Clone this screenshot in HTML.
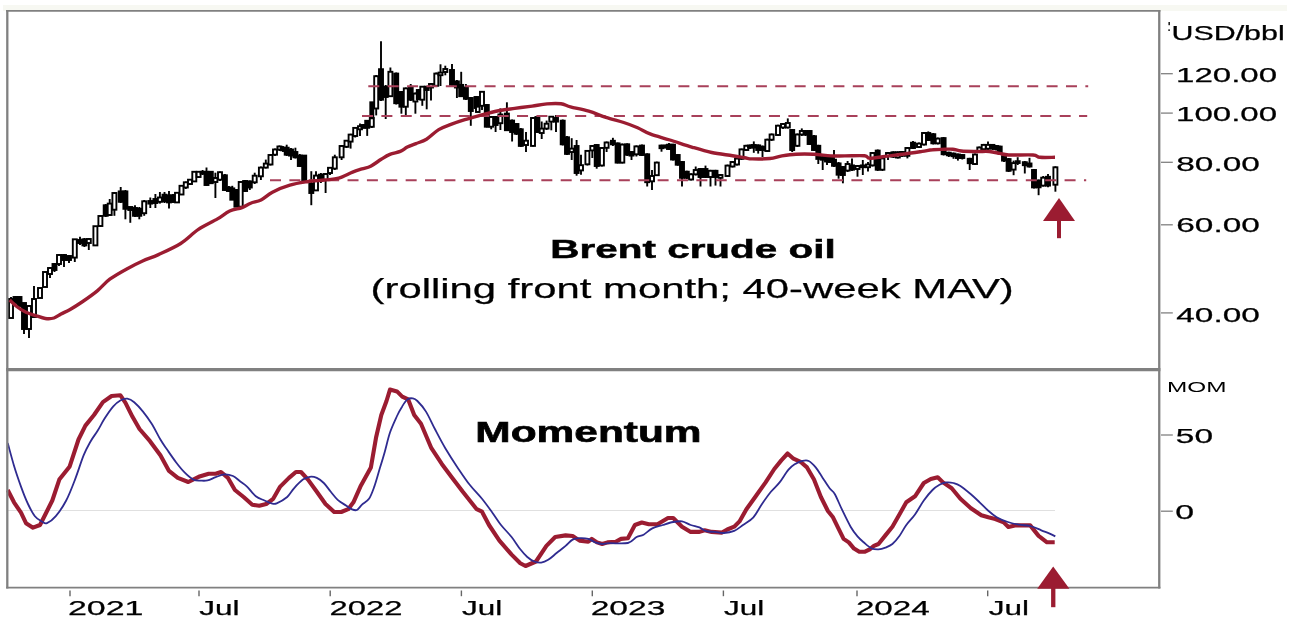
<!DOCTYPE html>
<html><head><meta charset="utf-8"><title>Brent crude oil</title>
<style>
html,body{margin:0;padding:0;background:#fff;}
body{width:1295px;height:631px;overflow:hidden;position:relative;font-family:"Liberation Sans",sans-serif;}
</style></head><body>
<svg width="1295" height="631" viewBox="0 0 1295 631" style="position:absolute;left:0;top:0">
<rect x="0" y="0" width="1295" height="631" fill="#ffffff"/>
<rect x="3" y="5" width="1284" height="6" fill="#f7f8f2"/>
<defs><filter id="b" x="0" y="0" width="1295" height="631" filterUnits="userSpaceOnUse" color-interpolation-filters="sRGB"><feGaussianBlur stdDeviation="0.4"/></filter></defs>
<g filter="url(#b)">
<line x1="8" y1="510.5" x2="1055" y2="510.5" stroke="#e0e0e0" stroke-width="1.2"/>
<g stroke="#000" stroke-width="1.9" stroke-linecap="butt">
<line x1="11" y1="297" x2="11" y2="318"/>
<rect x="9.0" y="299" width="4.0" height="19.0" fill="#fff"/>
<line x1="15.5" y1="296" x2="15.5" y2="303"/>
<rect x="13.5" y="297" width="4.0" height="6.0" fill="#000"/>
<line x1="19.5" y1="296" x2="19.5" y2="306"/>
<rect x="17.5" y="297" width="4.0" height="9.0" fill="#000"/>
<line x1="24" y1="303" x2="24" y2="334"/>
<rect x="22.0" y="303" width="4.0" height="26.0" fill="#000"/>
<line x1="29" y1="305" x2="29" y2="338"/>
<rect x="27.0" y="306" width="4.0" height="23.0" fill="#fff"/>
<line x1="34" y1="286" x2="34" y2="317"/>
<rect x="32.0" y="299" width="4.0" height="18.0" fill="#fff"/>
<line x1="40" y1="288" x2="40" y2="298"/>
<rect x="38.0" y="288" width="4.0" height="10.0" fill="#fff"/>
<line x1="45" y1="272" x2="45" y2="287"/>
<rect x="43.0" y="272" width="4.0" height="15.0" fill="#fff"/>
<line x1="50" y1="267" x2="50" y2="278"/>
<rect x="48.0" y="268" width="4.0" height="6.0" fill="#fff"/>
<line x1="54.5" y1="263" x2="54.5" y2="272"/>
<rect x="52.5" y="264" width="4.0" height="6.0" fill="#000"/>
<line x1="59" y1="254" x2="59" y2="266"/>
<rect x="57.0" y="255" width="4.0" height="9.0" fill="#fff"/>
<line x1="64" y1="254" x2="64" y2="267"/>
<rect x="62.0" y="255" width="4.0" height="5.0" fill="#000"/>
<line x1="69" y1="255" x2="69" y2="263"/>
<rect x="67.0" y="256" width="4.0" height="4.0" fill="#000"/>
<line x1="74.8" y1="239" x2="74.8" y2="262"/>
<rect x="72.8" y="239.3" width="4.0" height="18.3" fill="#fff"/>
<line x1="80" y1="236.7" x2="80" y2="245"/>
<rect x="78.0" y="240" width="4.0" height="3.0" fill="#000"/>
<line x1="84.4" y1="238" x2="84.4" y2="247"/>
<rect x="82.4" y="239.3" width="4.0" height="6.1" fill="#000"/>
<line x1="88.8" y1="238" x2="88.8" y2="250"/>
<rect x="86.8" y="239" width="4.0" height="4.0" fill="#fff"/>
<line x1="95.4" y1="226" x2="95.4" y2="246"/>
<rect x="93.4" y="226.2" width="4.0" height="19.2" fill="#fff"/>
<line x1="100.4" y1="215" x2="100.4" y2="227"/>
<rect x="98.4" y="216" width="4.0" height="10.0" fill="#fff"/>
<line x1="105.7" y1="204" x2="105.7" y2="217"/>
<rect x="103.7" y="205.3" width="4.0" height="10.5" fill="#000"/>
<line x1="109.7" y1="199" x2="109.7" y2="216"/>
<rect x="107.7" y="203.6" width="4.0" height="11.4" fill="#fff"/>
<line x1="114.4" y1="192" x2="114.4" y2="215.8"/>
<rect x="112.4" y="193" width="4.0" height="16.7" fill="#fff"/>
<line x1="120.7" y1="187" x2="120.7" y2="203"/>
<rect x="118.7" y="191.4" width="4.0" height="10.4" fill="#000"/>
<line x1="125.4" y1="190" x2="125.4" y2="219.3"/>
<rect x="123.4" y="191.4" width="4.0" height="17.4" fill="#000"/>
<line x1="130.3" y1="207" x2="130.3" y2="222.8"/>
<rect x="128.3" y="207" width="4.0" height="3.0" fill="#000"/>
<line x1="135" y1="205.3" x2="135" y2="217"/>
<rect x="133.0" y="208" width="4.0" height="7.8" fill="#000"/>
<line x1="139.3" y1="207" x2="139.3" y2="219.3"/>
<rect x="137.3" y="208.8" width="4.0" height="7.0" fill="#000"/>
<line x1="144.2" y1="200" x2="144.2" y2="215.8"/>
<rect x="142.2" y="201.3" width="4.0" height="11.9" fill="#fff"/>
<line x1="150.3" y1="197.5" x2="150.3" y2="208"/>
<rect x="148.3" y="201" width="4.0" height="2.6" fill="#000"/>
<line x1="155.4" y1="194" x2="155.4" y2="208"/>
<rect x="153.4" y="199" width="4.0" height="4.0" fill="#000"/>
<line x1="159.9" y1="192" x2="159.9" y2="203.6"/>
<rect x="157.9" y="197.5" width="4.0" height="4.3" fill="#fff"/>
<line x1="164.5" y1="192" x2="164.5" y2="203"/>
<rect x="162.5" y="194.7" width="4.0" height="6.6" fill="#000"/>
<line x1="169" y1="191" x2="169" y2="208.5"/>
<rect x="167.0" y="195.4" width="4.0" height="7.0" fill="#000"/>
<line x1="173" y1="194" x2="173" y2="203"/>
<rect x="171.0" y="195.4" width="4.0" height="6.1" fill="#000"/>
<line x1="177" y1="192" x2="177" y2="203"/>
<rect x="175.0" y="192.8" width="4.0" height="9.6" fill="#fff"/>
<line x1="181.5" y1="185" x2="181.5" y2="195"/>
<rect x="179.5" y="185.8" width="4.0" height="8.7" fill="#fff"/>
<line x1="185.8" y1="181.5" x2="185.8" y2="189"/>
<rect x="183.8" y="182.3" width="4.0" height="5.2" fill="#fff"/>
<line x1="190" y1="179" x2="190" y2="185"/>
<rect x="188.0" y="179.7" width="4.0" height="4.3" fill="#fff"/>
<line x1="194.3" y1="171" x2="194.3" y2="182"/>
<rect x="192.3" y="171.8" width="4.0" height="9.6" fill="#fff"/>
<line x1="198.6" y1="171" x2="198.6" y2="178"/>
<rect x="196.6" y="171.8" width="4.0" height="5.2" fill="#fff"/>
<line x1="202.6" y1="170" x2="202.6" y2="175"/>
<rect x="200.6" y="171.8" width="4.0" height="1.8" fill="#fff"/>
<line x1="206.5" y1="167.5" x2="206.5" y2="186"/>
<rect x="204.5" y="171.8" width="4.0" height="13.2" fill="#000"/>
<line x1="210.8" y1="171" x2="210.8" y2="184"/>
<rect x="208.8" y="171.8" width="4.0" height="11.4" fill="#000"/>
<line x1="215.4" y1="172.7" x2="215.4" y2="198"/>
<rect x="213.4" y="178" width="4.0" height="4.0" fill="#fff"/>
<line x1="220" y1="171.5" x2="220" y2="181"/>
<rect x="218.0" y="172.2" width="4.0" height="7.5" fill="#fff"/>
<line x1="224.9" y1="174" x2="224.9" y2="191"/>
<rect x="222.9" y="175.3" width="4.0" height="14.7" fill="#000"/>
<line x1="228.9" y1="186" x2="228.9" y2="192"/>
<rect x="226.9" y="187.5" width="4.0" height="3.5" fill="#000"/>
<line x1="232.3" y1="185.8" x2="232.3" y2="200"/>
<rect x="230.3" y="188.4" width="4.0" height="11.3" fill="#000"/>
<line x1="236.4" y1="189" x2="236.4" y2="207"/>
<rect x="234.4" y="190" width="4.0" height="16.7" fill="#000"/>
<line x1="240.7" y1="181" x2="240.7" y2="207"/>
<rect x="238.7" y="182" width="4.0" height="24.7" fill="#fff"/>
<line x1="245.1" y1="180" x2="245.1" y2="192"/>
<rect x="243.1" y="181" width="4.0" height="10.0" fill="#000"/>
<line x1="249.8" y1="180.5" x2="249.8" y2="190"/>
<rect x="247.8" y="181.4" width="4.0" height="6.1" fill="#000"/>
<line x1="254.7" y1="172.7" x2="254.7" y2="184"/>
<rect x="252.7" y="175.7" width="4.0" height="6.6" fill="#fff"/>
<line x1="260.9" y1="166.5" x2="260.9" y2="180"/>
<rect x="258.9" y="167.6" width="4.0" height="8.7" fill="#fff"/>
<line x1="265.8" y1="159.6" x2="265.8" y2="168.5"/>
<rect x="263.8" y="163.6" width="4.0" height="4.0" fill="#fff"/>
<line x1="270.5" y1="154" x2="270.5" y2="165.5"/>
<rect x="268.5" y="155" width="4.0" height="9.5" fill="#fff"/>
<line x1="275" y1="148.5" x2="275" y2="156"/>
<rect x="273.0" y="149.5" width="4.0" height="5.2" fill="#fff"/>
<line x1="279.4" y1="145.5" x2="279.4" y2="151"/>
<rect x="277.4" y="146.5" width="4.0" height="3.0" fill="#fff"/>
<line x1="283" y1="146" x2="283" y2="152"/>
<rect x="281.0" y="147.7" width="4.0" height="2.6" fill="#000"/>
<line x1="286.7" y1="144.7" x2="286.7" y2="156"/>
<rect x="284.7" y="147.7" width="4.0" height="7.0" fill="#000"/>
<line x1="291" y1="148" x2="291" y2="160"/>
<rect x="289.0" y="149.5" width="4.0" height="6.1" fill="#000"/>
<line x1="295.4" y1="147.7" x2="295.4" y2="158.5"/>
<rect x="293.4" y="152" width="4.0" height="5.3" fill="#000"/>
<line x1="299.8" y1="154" x2="299.8" y2="167"/>
<rect x="297.8" y="155.6" width="4.0" height="10.4" fill="#000"/>
<line x1="304.2" y1="155" x2="304.2" y2="183"/>
<rect x="302.2" y="155.6" width="4.0" height="26.1" fill="#000"/>
<line x1="311.3" y1="171.2" x2="311.3" y2="205.2"/>
<rect x="309.3" y="183.5" width="4.0" height="9.5" fill="#000"/>
<line x1="316" y1="171.2" x2="316" y2="191"/>
<rect x="314.0" y="175.6" width="4.0" height="14.8" fill="#fff"/>
<line x1="320.9" y1="173" x2="320.9" y2="183"/>
<rect x="318.9" y="174.7" width="4.0" height="3.5" fill="#000"/>
<line x1="325.6" y1="173" x2="325.6" y2="193"/>
<rect x="323.6" y="174" width="4.0" height="6.0" fill="#fff"/>
<line x1="330" y1="167" x2="330" y2="175"/>
<rect x="328.0" y="167.8" width="4.0" height="5.2" fill="#fff"/>
<line x1="334.8" y1="154.7" x2="334.8" y2="170"/>
<rect x="332.8" y="157.3" width="4.0" height="11.3" fill="#fff"/>
<line x1="341.6" y1="145" x2="341.6" y2="160"/>
<rect x="339.6" y="146" width="4.0" height="11.3" fill="#fff"/>
<line x1="346.5" y1="140" x2="346.5" y2="148"/>
<rect x="344.5" y="140.7" width="4.0" height="6.1" fill="#fff"/>
<line x1="350.6" y1="133.8" x2="350.6" y2="148.6"/>
<rect x="348.6" y="134.6" width="4.0" height="7.0" fill="#fff"/>
<line x1="355.2" y1="127" x2="355.2" y2="137.5"/>
<rect x="353.2" y="127.9" width="4.0" height="8.1" fill="#fff"/>
<line x1="360" y1="123.5" x2="360" y2="135.9"/>
<rect x="358.0" y="126.2" width="4.0" height="3.1" fill="#fff"/>
<line x1="363.4" y1="124" x2="363.4" y2="128.5"/>
<rect x="361.4" y="125" width="4.0" height="2.8" fill="#000"/>
<line x1="367.2" y1="120" x2="367.2" y2="135.9"/>
<rect x="365.2" y="120.8" width="4.0" height="7.0" fill="#000"/>
<line x1="371.8" y1="102.3" x2="371.8" y2="128"/>
<rect x="369.8" y="118" width="4.0" height="8.8" fill="#fff"/>
<line x1="376.2" y1="75" x2="376.2" y2="115.4"/>
<rect x="374.2" y="76.2" width="4.0" height="32.3" fill="#fff"/>
<line x1="381" y1="41.3" x2="381" y2="101"/>
<rect x="379.0" y="69.2" width="4.0" height="30.5" fill="#000"/>
<line x1="385.7" y1="85" x2="385.7" y2="119"/>
<rect x="383.7" y="86.7" width="4.0" height="10.3" fill="#000"/>
<line x1="390.4" y1="67.5" x2="390.4" y2="97"/>
<rect x="388.4" y="71.8" width="4.0" height="24.4" fill="#fff"/>
<line x1="396.2" y1="72.5" x2="396.2" y2="104.5"/>
<rect x="394.2" y="73.6" width="4.0" height="29.6" fill="#000"/>
<line x1="401.4" y1="91" x2="401.4" y2="113.7"/>
<rect x="399.4" y="92" width="4.0" height="14.7" fill="#000"/>
<line x1="405.8" y1="87.5" x2="405.8" y2="117"/>
<rect x="403.8" y="88.4" width="4.0" height="18.3" fill="#fff"/>
<line x1="410.7" y1="84" x2="410.7" y2="101"/>
<rect x="408.7" y="87.5" width="4.0" height="12.2" fill="#000"/>
<line x1="415.4" y1="92.5" x2="415.4" y2="113.7"/>
<rect x="413.4" y="93.6" width="4.0" height="7.9" fill="#fff"/>
<line x1="418.8" y1="89" x2="418.8" y2="100"/>
<rect x="416.8" y="90" width="4.0" height="9.0" fill="#000"/>
<line x1="422.3" y1="86" x2="422.3" y2="105.8"/>
<rect x="420.3" y="86.7" width="4.0" height="13.0" fill="#fff"/>
<line x1="426.7" y1="86" x2="426.7" y2="109.3"/>
<rect x="424.7" y="86.7" width="4.0" height="3.3" fill="#000"/>
<line x1="431" y1="83" x2="431" y2="100.6"/>
<rect x="429.0" y="84" width="4.0" height="3.5" fill="#fff"/>
<line x1="436.3" y1="72.5" x2="436.3" y2="86.5"/>
<rect x="434.3" y="73.6" width="4.0" height="12.2" fill="#fff"/>
<line x1="440.5" y1="64.3" x2="440.5" y2="86"/>
<rect x="438.5" y="72.6" width="4.0" height="2.6" fill="#fff"/>
<line x1="445.3" y1="65.7" x2="445.3" y2="75.3"/>
<rect x="443.3" y="69" width="4.0" height="3.0" fill="#fff"/>
<line x1="452" y1="64" x2="452" y2="86"/>
<rect x="450.0" y="70" width="4.0" height="14.9" fill="#000"/>
<line x1="456.9" y1="80" x2="456.9" y2="98"/>
<rect x="454.9" y="81.4" width="4.0" height="6.1" fill="#000"/>
<line x1="461.2" y1="71.8" x2="461.2" y2="97"/>
<rect x="459.2" y="84.9" width="4.0" height="11.3" fill="#000"/>
<line x1="465.9" y1="84" x2="465.9" y2="100"/>
<rect x="463.9" y="87.5" width="4.0" height="11.3" fill="#000"/>
<line x1="470.8" y1="97" x2="470.8" y2="125.8"/>
<rect x="468.8" y="98" width="4.0" height="13.0" fill="#000"/>
<line x1="476.5" y1="96" x2="476.5" y2="112"/>
<rect x="474.5" y="97" width="4.0" height="11.0" fill="#000"/>
<line x1="482" y1="91" x2="482" y2="110"/>
<rect x="480.0" y="91.8" width="4.0" height="14.0" fill="#fff"/>
<line x1="486.8" y1="104" x2="486.8" y2="127.5"/>
<rect x="484.8" y="105" width="4.0" height="21.7" fill="#000"/>
<line x1="491.2" y1="116" x2="491.2" y2="129.3"/>
<rect x="489.2" y="117" width="4.0" height="9.7" fill="#fff"/>
<line x1="495.6" y1="116" x2="495.6" y2="132"/>
<rect x="493.6" y="117" width="4.0" height="8.0" fill="#000"/>
<line x1="500.4" y1="108.4" x2="500.4" y2="130"/>
<rect x="498.4" y="114.5" width="4.0" height="8.7" fill="#fff"/>
<line x1="506.9" y1="102.3" x2="506.9" y2="131"/>
<rect x="504.9" y="113.6" width="4.0" height="16.6" fill="#000"/>
<line x1="512.1" y1="119.5" x2="512.1" y2="141.5"/>
<rect x="510.1" y="120.6" width="4.0" height="11.4" fill="#000"/>
<line x1="516.5" y1="123" x2="516.5" y2="135"/>
<rect x="514.5" y="124" width="4.0" height="9.7" fill="#000"/>
<line x1="520.8" y1="128" x2="520.8" y2="147"/>
<rect x="518.8" y="129.3" width="4.0" height="16.6" fill="#000"/>
<line x1="526" y1="132" x2="526" y2="152"/>
<rect x="524.0" y="140.7" width="4.0" height="4.3" fill="#fff"/>
<line x1="533" y1="117" x2="533" y2="146.5"/>
<rect x="531.0" y="118" width="4.0" height="27.9" fill="#fff"/>
<line x1="537.4" y1="116" x2="537.4" y2="133"/>
<rect x="535.4" y="117" width="4.0" height="15.0" fill="#000"/>
<line x1="541.7" y1="121.5" x2="541.7" y2="139"/>
<rect x="539.7" y="128.6" width="4.0" height="4.4" fill="#fff"/>
<line x1="546.6" y1="120.6" x2="546.6" y2="130"/>
<rect x="544.6" y="123.7" width="4.0" height="4.9" fill="#fff"/>
<line x1="551.3" y1="116" x2="551.3" y2="130.3"/>
<rect x="549.3" y="116.7" width="4.0" height="4.9" fill="#fff"/>
<line x1="556" y1="115" x2="556" y2="132"/>
<rect x="554.0" y="118" width="4.0" height="3.6" fill="#000"/>
<line x1="562.7" y1="119.5" x2="562.7" y2="145.5"/>
<rect x="560.7" y="120.7" width="4.0" height="23.6" fill="#000"/>
<line x1="567" y1="136" x2="567" y2="155"/>
<rect x="565.0" y="137.3" width="4.0" height="16.6" fill="#000"/>
<line x1="571.7" y1="138.2" x2="571.7" y2="160"/>
<rect x="569.7" y="148.6" width="4.0" height="3.4" fill="#fff"/>
<line x1="576.6" y1="140" x2="576.6" y2="175.7"/>
<rect x="574.6" y="146" width="4.0" height="27.0" fill="#000"/>
<line x1="581" y1="154.7" x2="581" y2="174.8"/>
<rect x="579.0" y="165.2" width="4.0" height="5.2" fill="#fff"/>
<line x1="587.4" y1="150" x2="587.4" y2="165.5"/>
<rect x="585.4" y="150.9" width="4.0" height="13.4" fill="#fff"/>
<line x1="592.3" y1="145" x2="592.3" y2="158"/>
<rect x="590.3" y="146" width="4.0" height="4.4" fill="#fff"/>
<line x1="596.7" y1="144" x2="596.7" y2="168.7"/>
<rect x="594.7" y="145" width="4.0" height="21.0" fill="#000"/>
<line x1="601.9" y1="147" x2="601.9" y2="166.5"/>
<rect x="599.9" y="148" width="4.0" height="17.5" fill="#fff"/>
<line x1="606.6" y1="141.5" x2="606.6" y2="152"/>
<rect x="604.6" y="142.5" width="4.0" height="5.3" fill="#fff"/>
<line x1="612.9" y1="137.8" x2="612.9" y2="146"/>
<rect x="610.9" y="140.8" width="4.0" height="3.5" fill="#000"/>
<line x1="617.6" y1="142.5" x2="617.6" y2="163.5"/>
<rect x="615.6" y="143.4" width="4.0" height="19.2" fill="#000"/>
<line x1="622.3" y1="143.5" x2="622.3" y2="163.5"/>
<rect x="620.3" y="144.6" width="4.0" height="18.0" fill="#fff"/>
<line x1="627.2" y1="143.3" x2="627.2" y2="156"/>
<rect x="625.2" y="144.3" width="4.0" height="10.4" fill="#000"/>
<line x1="631.5" y1="151" x2="631.5" y2="160"/>
<rect x="629.5" y="152" width="4.0" height="3.6" fill="#000"/>
<line x1="636.4" y1="145.4" x2="636.4" y2="156.5"/>
<rect x="634.4" y="146.4" width="4.0" height="7.9" fill="#fff"/>
<line x1="642" y1="144.6" x2="642" y2="156"/>
<rect x="640.0" y="145.6" width="4.0" height="9.4" fill="#000"/>
<line x1="647.2" y1="153.3" x2="647.2" y2="186.5"/>
<rect x="645.2" y="154.3" width="4.0" height="27.9" fill="#000"/>
<line x1="652" y1="170" x2="652" y2="190"/>
<rect x="650.0" y="176" width="4.0" height="5.3" fill="#fff"/>
<line x1="656.8" y1="161.6" x2="656.8" y2="176"/>
<rect x="654.8" y="162.6" width="4.0" height="12.6" fill="#fff"/>
<line x1="661.5" y1="144.6" x2="661.5" y2="151.7"/>
<rect x="659.5" y="145.6" width="4.0" height="2.6" fill="#000"/>
<line x1="665.5" y1="144.5" x2="665.5" y2="148.5"/>
<rect x="663.5" y="145.6" width="4.0" height="1.7" fill="#000"/>
<line x1="669" y1="143" x2="669" y2="150"/>
<rect x="667.0" y="144.7" width="4.0" height="4.3" fill="#000"/>
<line x1="673" y1="143.7" x2="673" y2="160.5"/>
<rect x="671.0" y="144.7" width="4.0" height="14.8" fill="#000"/>
<line x1="677.7" y1="154" x2="677.7" y2="165.7"/>
<rect x="675.7" y="155" width="4.0" height="9.7" fill="#000"/>
<line x1="682" y1="161" x2="682" y2="186.5"/>
<rect x="680.0" y="162" width="4.0" height="15.8" fill="#000"/>
<line x1="686.8" y1="170.7" x2="686.8" y2="179"/>
<rect x="684.8" y="171.7" width="4.0" height="6.1" fill="#000"/>
<line x1="691.1" y1="173.3" x2="691.1" y2="180.5"/>
<rect x="689.1" y="174.3" width="4.0" height="5.2" fill="#fff"/>
<line x1="695.7" y1="166.5" x2="695.7" y2="175.5"/>
<rect x="693.7" y="170" width="4.0" height="4.3" fill="#fff"/>
<line x1="700.5" y1="168" x2="700.5" y2="186.5"/>
<rect x="698.5" y="169" width="4.0" height="8.0" fill="#000"/>
<line x1="705.5" y1="165.6" x2="705.5" y2="178"/>
<rect x="703.5" y="169" width="4.0" height="8.0" fill="#000"/>
<line x1="710.5" y1="169.8" x2="710.5" y2="186.5"/>
<rect x="708.5" y="170.8" width="4.0" height="6.2" fill="#fff"/>
<line x1="715.5" y1="169.8" x2="715.5" y2="185.6"/>
<rect x="713.5" y="170.8" width="4.0" height="6.2" fill="#000"/>
<line x1="720.5" y1="174" x2="720.5" y2="186.5"/>
<rect x="718.5" y="175" width="4.0" height="2.8" fill="#fff"/>
<line x1="727.5" y1="164.6" x2="727.5" y2="177"/>
<rect x="725.5" y="165.6" width="4.0" height="10.4" fill="#fff"/>
<line x1="732.5" y1="161" x2="732.5" y2="167.5"/>
<rect x="730.5" y="162" width="4.0" height="4.5" fill="#fff"/>
<line x1="737" y1="157.6" x2="737" y2="165.5"/>
<rect x="735.0" y="158.6" width="4.0" height="5.9" fill="#fff"/>
<line x1="741.5" y1="148.6" x2="741.5" y2="159.8"/>
<rect x="739.5" y="149.4" width="4.0" height="9.4" fill="#fff"/>
<line x1="746.3" y1="144.8" x2="746.3" y2="151"/>
<rect x="744.3" y="145.8" width="4.0" height="4.2" fill="#fff"/>
<line x1="750" y1="144.5" x2="750" y2="149"/>
<rect x="748.0" y="145.5" width="4.0" height="2.0" fill="#000"/>
<line x1="753.8" y1="141.4" x2="753.8" y2="152.8"/>
<rect x="751.8" y="145" width="4.0" height="2.5" fill="#000"/>
<line x1="758.2" y1="144.4" x2="758.2" y2="153.6"/>
<rect x="756.2" y="145.4" width="4.0" height="4.6" fill="#000"/>
<line x1="762.5" y1="145.5" x2="762.5" y2="157"/>
<rect x="760.5" y="146.7" width="4.0" height="3.3" fill="#000"/>
<line x1="767.3" y1="138.7" x2="767.3" y2="152"/>
<rect x="765.3" y="139.7" width="4.0" height="11.3" fill="#fff"/>
<line x1="771.6" y1="133.5" x2="771.6" y2="141"/>
<rect x="769.6" y="134.5" width="4.0" height="5.2" fill="#fff"/>
<line x1="778" y1="124.7" x2="778" y2="136"/>
<rect x="776.0" y="125.7" width="4.0" height="9.3" fill="#fff"/>
<line x1="783" y1="123" x2="783" y2="129"/>
<rect x="781.0" y="124" width="4.0" height="3.5" fill="#fff"/>
<line x1="787.8" y1="118.4" x2="787.8" y2="128.5"/>
<rect x="785.8" y="123" width="4.0" height="4.5" fill="#fff"/>
<line x1="792.2" y1="129" x2="792.2" y2="152"/>
<rect x="790.2" y="130" width="4.0" height="20.0" fill="#000"/>
<line x1="797.4" y1="133.5" x2="797.4" y2="147"/>
<rect x="795.4" y="134.5" width="4.0" height="11.3" fill="#fff"/>
<line x1="801.8" y1="128.4" x2="801.8" y2="136"/>
<rect x="799.8" y="131" width="4.0" height="3.5" fill="#fff"/>
<line x1="805.6" y1="130" x2="805.6" y2="136"/>
<rect x="803.6" y="131" width="4.0" height="3.5" fill="#000"/>
<line x1="809.6" y1="130" x2="809.6" y2="145"/>
<rect x="807.6" y="131" width="4.0" height="13.0" fill="#000"/>
<line x1="814" y1="135" x2="814" y2="151"/>
<rect x="812.0" y="136.2" width="4.0" height="13.8" fill="#000"/>
<line x1="818.3" y1="144.8" x2="818.3" y2="164"/>
<rect x="816.3" y="145.8" width="4.0" height="13.1" fill="#000"/>
<line x1="822.7" y1="156" x2="822.7" y2="170"/>
<rect x="820.7" y="157.1" width="4.0" height="2.6" fill="#000"/>
<line x1="827" y1="156" x2="827" y2="165"/>
<rect x="825.0" y="157.1" width="4.0" height="4.4" fill="#000"/>
<line x1="830.5" y1="157" x2="830.5" y2="163"/>
<rect x="828.5" y="158" width="4.0" height="4.0" fill="#000"/>
<line x1="834" y1="150" x2="834" y2="167"/>
<rect x="832.0" y="159.7" width="4.0" height="6.1" fill="#000"/>
<line x1="838.6" y1="162" x2="838.6" y2="178.7"/>
<rect x="836.6" y="163.4" width="4.0" height="11.3" fill="#000"/>
<line x1="842.9" y1="166" x2="842.9" y2="183.3"/>
<rect x="840.9" y="167" width="4.0" height="8.0" fill="#000"/>
<line x1="847.6" y1="161" x2="847.6" y2="172"/>
<rect x="845.6" y="164" width="4.0" height="6.6" fill="#fff"/>
<line x1="852" y1="158.4" x2="852" y2="171"/>
<rect x="850.0" y="165.4" width="4.0" height="4.3" fill="#000"/>
<line x1="857.5" y1="165" x2="857.5" y2="176.7"/>
<rect x="855.5" y="166" width="4.0" height="3.0" fill="#fff"/>
<line x1="862.8" y1="160" x2="862.8" y2="175"/>
<rect x="860.8" y="165.4" width="4.0" height="1.8" fill="#000"/>
<line x1="868" y1="161.9" x2="868" y2="171.5"/>
<rect x="866.0" y="164.5" width="4.0" height="2.7" fill="#fff"/>
<line x1="872.5" y1="152" x2="872.5" y2="166.5"/>
<rect x="870.5" y="153" width="4.0" height="12.4" fill="#fff"/>
<line x1="877.7" y1="149.5" x2="877.7" y2="171"/>
<rect x="875.7" y="150.6" width="4.0" height="19.1" fill="#000"/>
<line x1="882.4" y1="157.4" x2="882.4" y2="171"/>
<rect x="880.4" y="158.4" width="4.0" height="11.3" fill="#fff"/>
<line x1="888" y1="152" x2="888" y2="160"/>
<rect x="886.0" y="153" width="4.0" height="2.8" fill="#fff"/>
<line x1="893.4" y1="151.3" x2="893.4" y2="158"/>
<rect x="891.4" y="152.3" width="4.0" height="4.4" fill="#000"/>
<line x1="897.8" y1="151.3" x2="897.8" y2="158.5"/>
<rect x="895.8" y="152.3" width="4.0" height="5.2" fill="#fff"/>
<line x1="902" y1="151" x2="902" y2="157"/>
<rect x="900.0" y="152" width="4.0" height="3.8" fill="#000"/>
<line x1="907.4" y1="147" x2="907.4" y2="158.4"/>
<rect x="905.4" y="148" width="4.0" height="7.8" fill="#fff"/>
<line x1="913" y1="141" x2="913" y2="149"/>
<rect x="911.0" y="142.7" width="4.0" height="5.3" fill="#000"/>
<line x1="919" y1="142.6" x2="919" y2="148"/>
<rect x="917.0" y="143.6" width="4.0" height="3.4" fill="#fff"/>
<line x1="924" y1="132" x2="924" y2="145.5"/>
<rect x="922.0" y="133" width="4.0" height="11.5" fill="#fff"/>
<line x1="928.3" y1="131.4" x2="928.3" y2="141"/>
<rect x="926.3" y="133" width="4.0" height="7.0" fill="#000"/>
<line x1="933.3" y1="133" x2="933.3" y2="144.5"/>
<rect x="931.3" y="134.2" width="4.0" height="9.1" fill="#000"/>
<line x1="937.8" y1="137.5" x2="937.8" y2="144.5"/>
<rect x="935.8" y="138.6" width="4.0" height="4.7" fill="#fff"/>
<line x1="943.6" y1="137" x2="943.6" y2="155.5"/>
<rect x="941.6" y="138.1" width="4.0" height="16.1" fill="#000"/>
<line x1="948.8" y1="151.7" x2="948.8" y2="157"/>
<rect x="946.8" y="152.7" width="4.0" height="2.6" fill="#000"/>
<line x1="953.5" y1="152.5" x2="953.5" y2="158.8"/>
<rect x="951.5" y="153.6" width="4.0" height="2.6" fill="#000"/>
<line x1="957.9" y1="153.5" x2="957.9" y2="160.6"/>
<rect x="955.9" y="154.5" width="4.0" height="3.5" fill="#000"/>
<line x1="962.3" y1="154" x2="962.3" y2="159.5"/>
<rect x="960.3" y="155" width="4.0" height="3.0" fill="#000"/>
<line x1="969.7" y1="157.8" x2="969.7" y2="170"/>
<rect x="967.7" y="158.8" width="4.0" height="4.4" fill="#000"/>
<line x1="975" y1="153.5" x2="975" y2="165"/>
<rect x="973.0" y="154.5" width="4.0" height="9.5" fill="#fff"/>
<line x1="979.3" y1="146.5" x2="979.3" y2="152.5"/>
<rect x="977.3" y="147.5" width="4.0" height="3.5" fill="#fff"/>
<line x1="983.7" y1="143.9" x2="983.7" y2="150.5"/>
<rect x="981.7" y="144.9" width="4.0" height="4.3" fill="#fff"/>
<line x1="988" y1="141.4" x2="988" y2="150"/>
<rect x="986.0" y="144.9" width="4.0" height="3.8" fill="#fff"/>
<line x1="992.4" y1="144" x2="992.4" y2="150"/>
<rect x="990.4" y="144.9" width="4.0" height="3.5" fill="#000"/>
<line x1="996" y1="145" x2="996" y2="150.5"/>
<rect x="994.0" y="146" width="4.0" height="3.0" fill="#000"/>
<line x1="999.7" y1="145.6" x2="999.7" y2="154"/>
<rect x="997.7" y="146.6" width="4.0" height="6.1" fill="#000"/>
<line x1="1004" y1="155.2" x2="1004" y2="162"/>
<rect x="1002.0" y="156.2" width="4.0" height="4.4" fill="#000"/>
<line x1="1008.6" y1="158" x2="1008.6" y2="172"/>
<rect x="1006.6" y="159.1" width="4.0" height="11.7" fill="#000"/>
<line x1="1013.6" y1="160.6" x2="1013.6" y2="175.2"/>
<rect x="1011.6" y="163.1" width="4.0" height="6.5" fill="#fff"/>
<line x1="1017.7" y1="157.2" x2="1017.7" y2="165"/>
<rect x="1015.7" y="161.2" width="4.0" height="1.8" fill="#000"/>
<line x1="1024.8" y1="161" x2="1024.8" y2="173.5"/>
<rect x="1022.8" y="162.2" width="4.0" height="3.0" fill="#000"/>
<line x1="1029.5" y1="157.8" x2="1029.5" y2="167.5"/>
<rect x="1027.5" y="163.5" width="4.0" height="3.0" fill="#000"/>
<line x1="1034" y1="169" x2="1034" y2="188.5"/>
<rect x="1032.0" y="170" width="4.0" height="17.4" fill="#000"/>
<line x1="1038.6" y1="179.5" x2="1038.6" y2="195.2"/>
<rect x="1036.6" y="180.5" width="4.0" height="6.8" fill="#000"/>
<line x1="1043.2" y1="176" x2="1043.2" y2="186.6"/>
<rect x="1041.2" y="177.7" width="4.0" height="7.9" fill="#fff"/>
<line x1="1048" y1="174" x2="1048" y2="187.3"/>
<rect x="1046.0" y="176.8" width="4.0" height="8.8" fill="#000"/>
<line x1="1055.4" y1="166.3" x2="1055.4" y2="191.7"/>
<rect x="1053.4" y="167.3" width="4.0" height="17.4" fill="#fff"/>
<rect x="370.3" y="102.3" width="3" height="16" fill="#000"/>
<rect x="476" y="106.7" width="3.6" height="5.3" fill="#fff"/>
</g>
<line x1="368.3" y1="86.35" x2="1088.2" y2="86.35" stroke="#a8405a" stroke-width="2" stroke-dasharray="11 8.38"/>
<line x1="362" y1="116.1" x2="1087.2" y2="116.1" stroke="#a8405a" stroke-width="2" stroke-dasharray="11 8.38"/>
<line x1="270" y1="180.3" x2="1086.2" y2="180.3" stroke="#a8405a" stroke-width="2" stroke-dasharray="11 8.38"/>
<path d="M9.6,300.0C10.9,301.2 14.7,304.9 17.4,307.0C20.1,309.1 23.1,310.9 26.0,312.3C28.9,313.7 31.8,314.3 35.0,315.3C38.2,316.3 42.1,318.1 45.3,318.5C48.5,318.9 51.4,318.8 54.0,318.0C56.6,317.2 58.4,315.4 61.0,314.0C63.6,312.6 66.2,311.7 69.7,309.7C73.2,307.7 77.3,305.2 82.0,302.0C86.7,298.8 93.0,294.4 97.6,290.6C102.2,286.8 104.9,282.8 109.8,279.2C114.7,275.6 121.3,271.9 126.8,268.9C132.3,265.9 137.3,263.4 142.6,261.0C147.9,258.6 152.2,257.5 158.5,254.6C164.8,251.7 174.0,247.7 180.7,243.5C187.3,239.3 192.3,233.5 198.4,229.4C204.5,225.3 212.3,222.0 217.5,218.9C222.7,215.8 225.6,212.9 229.7,211.0C233.8,209.1 238.5,208.9 242.0,207.6C245.5,206.3 247.5,204.5 250.7,203.2C253.9,201.9 257.4,201.8 261.0,200.0C264.6,198.2 267.6,194.7 272.4,192.2C277.2,189.7 284.1,186.9 289.9,185.2C295.7,183.4 301.5,182.6 307.3,181.7C313.1,180.8 319.5,180.6 324.7,180.0C329.9,179.4 334.0,179.5 338.7,178.2C343.4,176.9 348.7,173.6 352.6,172.1C356.5,170.6 359.0,169.9 362.0,168.9C365.0,167.9 367.5,167.8 370.7,166.2C373.9,164.6 378.0,161.3 381.2,159.3C384.4,157.3 386.7,155.7 389.9,154.4C393.1,153.1 397.4,152.6 400.3,151.4C403.2,150.2 404.7,148.4 407.3,147.1C409.9,145.8 412.8,144.9 416.0,143.6C419.2,142.3 422.7,141.5 426.5,139.2C430.3,136.9 434.6,132.1 438.7,129.6C442.8,127.1 446.5,126.1 450.9,124.4C455.2,122.8 460.0,121.2 464.8,119.7C469.6,118.2 474.5,116.9 479.9,115.4C485.3,114.0 491.5,112.2 497.3,111.0C503.1,109.8 508.9,109.2 514.7,108.4C520.5,107.6 526.8,106.8 532.2,106.1C537.6,105.3 542.2,104.3 547.0,103.9C551.8,103.5 557.1,103.3 561.0,103.8C564.9,104.3 565.9,105.6 570.5,106.8C575.1,108.0 582.9,109.5 588.8,111.2C594.7,113.0 600.2,115.4 606.0,117.3C611.8,119.2 618.4,120.8 623.7,122.5C629.0,124.2 633.1,125.8 637.6,127.7C642.1,129.7 645.3,132.1 650.7,134.2C656.1,136.2 662.9,137.8 669.9,140.0C676.9,142.2 685.5,145.2 692.5,147.3C699.5,149.4 705.0,151.1 711.7,152.5C718.4,153.9 727.1,154.8 732.6,155.7C738.1,156.6 741.5,157.3 744.8,157.8C748.1,158.3 748.2,158.8 752.4,158.9C756.6,159.0 765.0,159.0 769.9,158.5C774.8,158.0 777.6,156.6 782.0,155.9C786.4,155.2 790.8,154.5 796.0,154.2C801.2,153.9 807.7,153.9 813.5,154.2C819.3,154.5 825.7,155.6 830.9,155.9C836.1,156.2 839.2,155.9 844.8,155.9C850.4,155.9 860.4,155.4 864.6,155.8C868.8,156.2 866.1,158.1 869.9,158.2C873.7,158.2 881.5,156.8 887.3,156.1C893.1,155.4 898.9,154.8 904.7,154.0C910.5,153.2 917.6,152.1 922.2,151.4C926.9,150.7 928.8,150.0 932.6,149.7C936.4,149.3 941.4,149.4 944.8,149.3C948.1,149.2 949.9,148.9 952.7,149.2C955.5,149.5 957.4,150.6 961.4,151.0C965.4,151.4 972.4,151.4 977.0,151.5C981.6,151.6 985.5,151.2 989.3,151.5C993.1,151.8 996.5,152.8 999.7,153.4C1002.9,154.0 1003.2,154.7 1008.7,155.0C1014.2,155.3 1027.8,154.6 1033.0,155.0C1038.2,155.4 1036.3,156.9 1040.0,157.3C1043.7,157.7 1052.5,157.3 1055.0,157.3" fill="none" stroke="#9b1c31" stroke-width="3.4" stroke-linejoin="round" stroke-linecap="butt"/>
<polyline points="7.7,490.0 14.0,502.3 21.0,512.7 26.0,523.2 33.0,527.7 40.0,525.0 45.3,514.5 52.3,500.5 59.3,479.6 69.7,466.4 78.5,439.5 85.4,425.6 94.0,415.0 102.9,402.2 111.6,396.0 120.3,395.2 125.5,402.9 132.5,416.8 139.5,429.0 150.0,441.2 160.4,455.2 169.0,470.9 177.8,477.9 188.3,482.0 198.7,476.8 208.7,473.7 215.7,473.7 221.0,472.0 228.0,477.9 234.9,490.0 243.6,497.0 252.3,504.7 259.3,505.8 266.2,504.0 273.2,498.8 280.2,486.6 289.0,477.9 295.9,472.0 301.0,472.0 308.0,479.6 316.8,491.8 325.5,504.0 334.2,512.0 341.2,512.0 348.2,509.2 353.4,502.3 360.4,486.6 370.9,467.4 376.0,437.8 381.3,415.0 386.5,401.0 390.0,389.6 397.0,391.4 402.2,396.6 408.2,399.4 414.2,415.0 421.0,423.8 431.4,448.2 441.8,463.9 452.3,477.9 462.8,491.8 476.7,509.2 482.0,511.7 489.0,525.0 499.4,540.6 511.6,554.6 520.3,563.3 525.5,566.0 536.0,561.5 546.4,545.9 555.2,537.0 565.6,535.4 572.6,536.0 579.6,540.6 588.3,541.7 591.8,538.9 597.0,542.4 602.2,544.0 607.5,542.4 615.7,541.7 621.0,538.9 627.9,538.2 634.9,525.0 641.8,522.5 648.8,524.2 657.5,524.2 668.0,518.0 673.2,518.0 682.0,526.7 690.7,531.9 699.4,531.9 704.6,530.2 711.6,531.9 722.0,532.6 727.3,529.5 734.2,526.7 739.5,521.4 746.4,509.2 755.2,497.0 765.6,482.4 774.3,469.0 781.3,460.4 787.6,453.5 793.5,458.7 800.5,461.8 807.0,467.4 814.0,479.6 820.9,497.0 827.9,511.0 833.0,517.3 838.4,528.4 843.6,538.9 848.8,542.4 854.0,548.6 859.3,551.8 864.5,551.8 869.7,549.3 873.9,545.9 878.5,544.0 885.4,535.4 892.4,526.7 899.4,514.5 906.3,502.3 915.0,496.3 923.8,483.0 930.8,479.0 937.7,477.2 943.0,482.4 951.7,488.3 960.4,498.8 970.9,508.2 981.3,515.2 988.3,517.3 995.3,519.0 1003.7,522.4 1008.4,527.0 1014.9,525.4 1030.2,525.4 1038.6,535.9 1047.0,542.3 1054.7,542.3" fill="none" stroke="#9b1c31" stroke-width="4.1" stroke-linejoin="round" stroke-linecap="butt"/>
<path d="M7.7,443.0C8.8,446.8 11.8,458.4 14.0,465.7C16.2,473.0 18.7,480.2 21.0,486.6C23.3,493.0 25.7,499.1 28.0,504.0C30.3,508.9 32.6,513.3 34.9,516.2C37.2,519.1 39.8,520.2 41.8,521.4C43.8,522.6 44.7,524.1 47.0,523.2C49.3,522.3 52.6,520.0 55.8,516.2C59.0,512.4 63.0,506.6 66.2,500.5C69.4,494.4 72.1,487.2 75.0,479.6C77.9,472.1 81.1,461.6 83.7,455.2C86.3,448.8 88.4,445.3 90.7,441.2C93.0,437.1 95.3,434.6 97.6,430.8C99.9,427.0 102.0,422.7 104.6,418.6C107.2,414.5 110.7,409.4 113.3,406.4C115.9,403.4 118.0,401.8 120.3,400.5C122.6,399.2 125.0,398.4 127.3,398.7C129.6,399.0 131.6,400.0 134.2,402.2C136.8,404.4 140.1,408.0 143.0,411.6C145.9,415.2 148.8,419.2 151.7,423.8C154.6,428.4 157.8,435.1 160.4,439.5C163.0,443.9 164.8,446.2 167.4,450.0C170.0,453.8 173.1,458.4 176.0,462.2C178.9,466.0 181.9,469.7 184.8,472.6C187.7,475.5 190.9,478.3 193.5,479.6C196.1,480.9 198.2,480.5 200.5,480.6C202.8,480.7 205.0,481.0 207.5,480.4C210.0,479.8 212.9,478.2 215.7,477.2C218.5,476.2 221.5,474.6 224.4,474.4C227.3,474.2 230.4,474.9 233.0,476.0C235.6,477.1 237.7,479.5 240.0,481.3C242.3,483.1 244.4,484.1 247.0,486.6C249.6,489.1 252.9,494.0 255.8,496.3C258.7,498.6 261.9,499.3 264.5,500.5C267.1,501.7 269.5,502.8 271.5,503.3C273.5,503.8 274.1,504.4 276.7,503.3C279.3,502.2 284.3,499.5 287.2,497.0C290.1,494.5 291.4,491.2 294.0,488.3C296.6,485.4 300.3,481.5 302.9,479.6C305.5,477.7 307.5,477.1 309.8,476.8C312.1,476.5 314.5,476.9 316.8,477.9C319.1,478.9 321.5,480.7 323.8,483.0C326.1,485.3 328.5,489.0 330.8,491.8C333.1,494.6 335.1,497.5 337.7,499.8C340.3,502.1 344.1,504.2 346.4,505.8C348.7,507.4 349.9,508.5 351.7,509.2C353.4,509.9 355.2,510.8 356.9,510.0C358.6,509.2 360.0,506.6 362.0,504.7C364.0,502.8 366.9,501.8 369.0,498.8C371.1,495.8 372.5,491.6 374.3,486.6C376.1,481.6 377.9,474.8 379.6,469.0C381.4,463.2 383.1,457.8 384.8,451.7C386.5,445.6 388.0,438.4 390.0,432.5C392.0,426.6 395.0,420.4 397.0,416.0C399.0,411.6 400.4,409.2 402.2,406.4C403.9,403.6 405.8,400.7 407.5,399.4C409.2,398.1 411.1,398.1 412.7,398.4C414.3,398.7 415.2,398.8 417.4,401.0C419.6,403.2 423.1,406.9 426.0,411.6C428.9,416.3 431.7,422.9 434.9,429.0C438.1,435.1 441.5,441.8 445.3,448.2C449.1,454.6 453.4,461.3 457.5,467.4C461.6,473.5 465.6,479.6 469.7,484.8C473.8,490.0 478.2,494.1 482.0,498.8C485.8,503.5 489.2,508.3 492.4,512.7C495.6,517.1 497.8,521.0 501.0,525.0C504.2,529.0 508.4,533.0 511.6,537.0C514.8,541.0 517.7,546.0 520.3,549.3C522.9,552.6 525.0,555.0 527.3,557.0C529.6,559.0 531.9,560.6 534.2,561.5C536.5,562.4 538.9,562.9 541.2,562.6C543.5,562.3 545.6,561.4 548.2,559.8C550.8,558.2 554.0,555.1 556.9,552.8C559.8,550.5 563.0,548.1 565.6,545.9C568.2,543.7 570.3,540.9 572.6,539.6C574.9,538.3 577.0,538.3 579.6,538.2C582.2,538.1 585.7,538.2 588.3,538.9C590.9,539.6 593.0,541.5 595.3,542.4C597.6,543.2 599.9,543.9 602.2,544.0C604.5,544.1 604.9,543.4 609.2,543.2C613.5,543.0 623.3,544.0 627.9,543.0C632.5,542.0 634.0,538.4 636.6,537.0C639.2,535.6 641.0,536.1 643.6,534.7C646.2,533.3 649.1,530.0 652.3,528.4C655.5,526.8 659.3,526.1 662.8,525.0C666.3,523.9 670.0,522.6 673.2,522.0C676.4,521.4 679.1,520.9 682.0,521.4C684.9,521.9 687.8,524.0 690.7,525.0C693.6,526.0 696.8,526.4 699.4,527.4C702.0,528.4 703.7,530.5 706.3,531.2C708.9,532.0 712.1,531.6 715.0,531.9C717.9,532.2 720.6,533.2 723.8,533.0C727.0,532.8 731.0,532.2 734.2,530.9C737.4,529.6 739.8,527.3 743.0,525.0C746.2,522.7 750.2,520.8 753.4,517.3C756.6,513.8 759.1,508.2 762.0,504.0C764.9,499.8 768.0,495.4 770.9,491.8C773.8,488.2 776.7,486.1 779.6,482.4C782.5,478.7 785.7,472.9 788.3,469.8C790.9,466.7 793.0,465.4 795.3,463.9C797.6,462.4 800.0,461.5 802.2,461.0C804.4,460.5 806.5,459.9 808.7,461.0C811.0,462.1 813.4,464.6 815.7,467.4C818.0,470.2 820.4,474.4 822.7,477.9C825.0,481.4 827.6,485.6 829.6,488.3C831.6,491.0 832.9,490.7 834.9,494.2C836.9,497.7 839.2,503.8 841.8,509.2C844.4,514.6 848.0,522.2 850.6,526.7C853.2,531.2 855.2,533.7 857.5,536.4C859.8,539.1 862.2,541.0 864.5,543.0C866.8,545.0 869.2,547.2 871.5,548.3C873.8,549.3 876.2,549.4 878.5,549.3C880.8,549.2 883.1,548.5 885.4,547.6C887.7,546.7 890.1,545.9 892.4,544.0C894.7,542.1 897.1,539.2 899.4,536.0C901.7,532.8 903.7,528.6 906.3,525.0C908.9,521.4 912.1,518.6 915.0,514.5C917.9,510.4 920.9,504.6 923.8,500.5C926.7,496.4 929.9,492.6 932.5,490.0C935.1,487.4 937.2,486.1 939.5,484.8C941.8,483.5 944.1,482.7 946.4,482.4C948.7,482.1 951.1,482.4 953.4,483.0C955.7,483.6 957.5,484.0 960.4,485.9C963.3,487.8 967.7,491.5 970.9,494.2C974.1,496.9 976.7,499.5 979.6,502.3C982.5,505.1 985.4,508.3 988.3,510.8C991.1,513.3 993.4,515.3 996.7,517.2C1000.0,519.1 1004.2,520.8 1007.9,522.0C1011.6,523.2 1015.3,524.0 1019.0,524.7C1022.7,525.4 1026.5,525.1 1030.2,526.0C1033.9,526.9 1038.0,529.0 1041.3,530.3C1044.5,531.6 1047.4,532.6 1049.7,533.6C1052.0,534.6 1054.4,535.9 1055.3,536.4" fill="none" stroke="#2f2b90" stroke-width="1.8" stroke-linejoin="round"/>
<g stroke="#808080" fill="none">
<line x1="7.3" y1="10.1" x2="7.3" y2="588.5" stroke-width="2.3"/>
<line x1="6.15" y1="10.9" x2="1160.4" y2="10.9" stroke-width="1.7"/>
<line x1="1159.25" y1="10.1" x2="1159.25" y2="588.5" stroke-width="2.3"/>
<line x1="6.15" y1="369.7" x2="1160.4" y2="369.7" stroke-width="3.2"/>
<line x1="6.15" y1="587.7" x2="1160.4" y2="587.7" stroke-width="1.7"/>
<line x1="1161" y1="73.7" x2="1172.8" y2="73.7" stroke-width="1.3"/>
<line x1="1161" y1="113.1" x2="1172.8" y2="113.1" stroke-width="1.3"/>
<line x1="1161" y1="162.3" x2="1172.8" y2="162.3" stroke-width="1.3"/>
<line x1="1161" y1="224.8" x2="1172.8" y2="224.8" stroke-width="1.3"/>
<line x1="1161" y1="312.9" x2="1172.8" y2="312.9" stroke-width="1.3"/>
<line x1="1161" y1="435" x2="1172.8" y2="435" stroke-width="1.3"/>
<line x1="1161" y1="511.2" x2="1172.8" y2="511.2" stroke-width="1.3"/>
<line x1="70" y1="590.5" x2="70" y2="596.2" stroke="#666" stroke-width="1.4"/>
<line x1="199" y1="590.5" x2="199" y2="596.2" stroke="#666" stroke-width="1.4"/>
<line x1="330.2" y1="590.5" x2="330.2" y2="596.2" stroke="#666" stroke-width="1.4"/>
<line x1="461.4" y1="590.5" x2="461.4" y2="596.2" stroke="#666" stroke-width="1.4"/>
<line x1="592.3" y1="590.5" x2="592.3" y2="596.2" stroke="#666" stroke-width="1.4"/>
<line x1="723.4" y1="590.5" x2="723.4" y2="596.2" stroke="#666" stroke-width="1.4"/>
<line x1="857" y1="590.5" x2="857" y2="596.2" stroke="#666" stroke-width="1.4"/>
<line x1="987.7" y1="590.5" x2="987.7" y2="596.2" stroke="#666" stroke-width="1.4"/>
</g>
<polygon points="1059,198 1043,221 1075,221" fill="#9b1c31"/><rect x="1057" y="220" width="4" height="18.2" fill="#9b1c31"/>
<polygon points="1053.2,566.4 1037.2,588.8 1069.4,588.8" fill="#9b1c31"/><rect x="1051.1" y="588" width="4.3" height="19.2" fill="#9b1c31"/>
<defs><filter id="g" x="0" y="0" width="1295" height="631" filterUnits="userSpaceOnUse" color-interpolation-filters="sRGB"><feOffset dx="0" dy="0"/></filter></defs>
<g font-family="'Liberation Sans', sans-serif" filter="url(#g)">
<text x="1171.5" y="40" textLength="113.2" lengthAdjust="spacingAndGlyphs" font-size="20.5" fill="#000" stroke="#000" stroke-width="0.25">USD/bbl</text>
<rect x="1168.4" y="22" width="1.6" height="3.2" fill="#222"/><rect x="1168.2" y="29.4" width="1.8" height="1.5" fill="#222"/>
<text x="1176.1" y="82.3" textLength="100.9" lengthAdjust="spacingAndGlyphs" font-size="20" fill="#000" stroke="#000" stroke-width="0.25">120.00</text>
<text x="1176.1" y="121" textLength="100.9" lengthAdjust="spacingAndGlyphs" font-size="20" fill="#000" stroke="#000" stroke-width="0.25">100.00</text>
<text x="1176.3" y="170.6" textLength="83.5" lengthAdjust="spacingAndGlyphs" font-size="20" fill="#000" stroke="#000" stroke-width="0.25">80.00</text>
<text x="1176.3" y="232.4" textLength="83.5" lengthAdjust="spacingAndGlyphs" font-size="20" fill="#000" stroke="#000" stroke-width="0.25">60.00</text>
<text x="1176.3" y="321.9" textLength="83.5" lengthAdjust="spacingAndGlyphs" font-size="20" fill="#000" stroke="#000" stroke-width="0.25">40.00</text>
<text x="1167.1" y="391.6" textLength="59.4" lengthAdjust="spacingAndGlyphs" font-size="14" fill="#000" stroke="#000" stroke-width="0">MOM</text>
<text x="1175.8" y="443" textLength="37.2" lengthAdjust="spacingAndGlyphs" font-size="20" fill="#000" stroke="#000" stroke-width="0.25">50</text>
<text x="1175.2" y="519.2" textLength="18.8" lengthAdjust="spacingAndGlyphs" font-size="20" fill="#000" stroke="#000" stroke-width="0.25">0</text>
<text x="67.9" y="615.2" textLength="75.5" lengthAdjust="spacingAndGlyphs" font-size="21" fill="#000" stroke="#000" stroke-width="0.25">2021</text>
<text x="329.6" y="615.2" textLength="72.9" lengthAdjust="spacingAndGlyphs" font-size="21" fill="#000" stroke="#000" stroke-width="0.25">2022</text>
<text x="590.7" y="615.2" textLength="74.7" lengthAdjust="spacingAndGlyphs" font-size="21" fill="#000" stroke="#000" stroke-width="0.25">2023</text>
<text x="855.9" y="615.2" textLength="73.9" lengthAdjust="spacingAndGlyphs" font-size="21" fill="#000" stroke="#000" stroke-width="0.25">2024</text>
<text x="199.3" y="615.2" textLength="40.3" lengthAdjust="spacingAndGlyphs" font-size="21" fill="#000" stroke="#000" stroke-width="0.25">Jul</text>
<text x="462" y="615.2" textLength="40.3" lengthAdjust="spacingAndGlyphs" font-size="21" fill="#000" stroke="#000" stroke-width="0.25">Jul</text>
<text x="724" y="615.2" textLength="40.3" lengthAdjust="spacingAndGlyphs" font-size="21" fill="#000" stroke="#000" stroke-width="0.25">Jul</text>
<text x="988.7" y="615.2" textLength="40.3" lengthAdjust="spacingAndGlyphs" font-size="21" fill="#000" stroke="#000" stroke-width="0.25">Jul</text>
<text x="550.3" y="257.8" textLength="285.4" lengthAdjust="spacingAndGlyphs" font-size="26.5" font-weight="bold" fill="#000" stroke="#000" stroke-width="0.5">Brent crude oil</text>
<text x="370.6" y="297.5" textLength="643.2" lengthAdjust="spacingAndGlyphs" font-size="28.5" fill="#000" stroke="#000" stroke-width="0.25">(rolling front month; 40-week MAV)</text>
<text x="475.3" y="441.6" textLength="226.3" lengthAdjust="spacingAndGlyphs" font-size="28.8" font-weight="bold" fill="#000" stroke="#000" stroke-width="0.6">Momentum</text>
</g>
</g>
</svg>
</body></html>
